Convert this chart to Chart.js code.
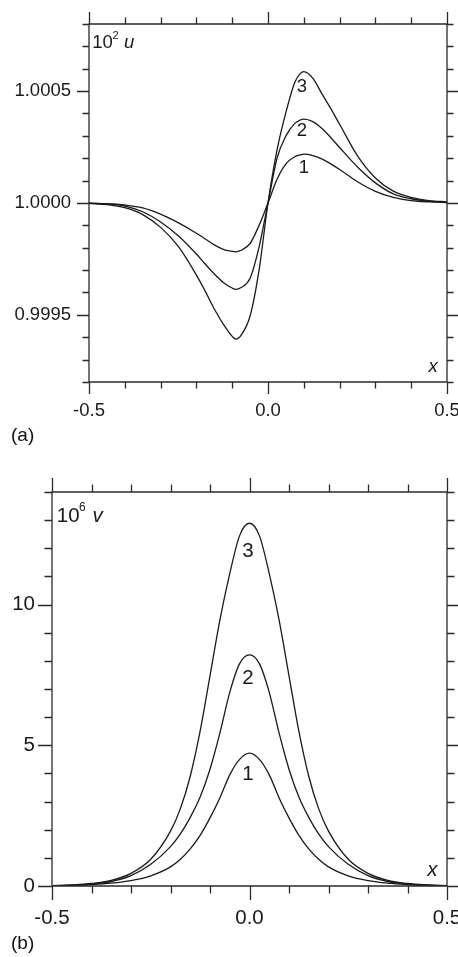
<!DOCTYPE html>
<html>
<head>
<meta charset="utf-8">
<script src="https://cdn.jsdelivr.net/npm/chart.js@4.4.1/dist/chart.umd.min.js"></script>
<style>
    html, body { margin: 0; padding: 0; background: #fff; overflow: hidden; }
    #wrap { position: relative; width: 458px; height: 957px; overflow: hidden; }
    canvas { position: absolute; left: 0; }
    #chartA { top: 0; }
    #chartB { top: 460px; }
    .tag { position: absolute; left: 11px; font: 19px "Liberation Sans", Arial, sans-serif;
           line-height: 19px; color: #111; }
</style>
</head>
<body>
<div id="wrap">
    <canvas id="chartA" width="470" height="450"></canvas>
    <canvas id="chartB" width="470" height="497"></canvas>
    <div class="tag" style="top:425px">(a)</div>
    <div class="tag" style="top:933px">(b)</div>
</div>
<script>
// panel (a): u - 1, in units of 1e-4
const X_U = [-0.5, -0.45, -0.4, -0.35, -0.3, -0.25, -0.2, -0.175, -0.15, -0.125, -0.1, -0.09, -0.075, -0.05, -0.025, 0,
    0.025, 0.05, 0.075, 0.09, 0.1, 0.125, 0.15, 0.175, 0.2, 0.25, 0.3, 0.35, 0.4, 0.45, 0.5];
const U_DEV_1 = [-0.01, -0.03, -0.09, -0.22, -0.5, -0.89, -1.35, -1.61, -1.87, -2.07, -2.16, -2.18, -2.11, -1.81, -1.0, 0,
    1.05, 1.75, 2.07, 2.15, 2.18, 2.12, 1.97, 1.75, 1.50, 0.95, 0.52, 0.25, 0.11, 0.05, 0.02];
const U_DEV_2 = [-0.01, -0.04, -0.14, -0.39, -0.85, -1.47, -2.28, -2.74, -3.17, -3.55, -3.80, -3.86, -3.78, -3.36, -1.97, 0,
    1.99, 3.0, 3.56, 3.71, 3.75, 3.64, 3.34, 2.93, 2.48, 1.61, 0.9, 0.41, 0.19, 0.08, 0.04];
const U_DEV_3 = [-0.02, -0.07, -0.21, -0.52, -1.09, -1.95, -3.22, -3.95, -4.74, -5.41, -5.96, -6.08, -5.90, -5.05, -3.0, 0,
    2.35, 4.05, 5.40, 5.78, 5.87, 5.58, 4.90, 4.23, 3.52, 2.11, 1.12, 0.53, 0.25, 0.11, 0.05];

// panel (b): 10^6 v
const X_V = [-0.5, -0.45, -0.4, -0.35, -0.3, -0.25, -0.2, -0.175, -0.15, -0.125, -0.1, -0.075, -0.05, -0.025, 0,
    0.025, 0.05, 0.075, 0.1, 0.125, 0.15, 0.175, 0.2, 0.25, 0.3, 0.35, 0.4, 0.45, 0.5];
const V_1 = [0.01, 0.022, 0.05, 0.1, 0.19, 0.36, 0.68, 0.95, 1.32, 1.80, 2.42, 3.13, 3.95, 4.5, 4.72,
    4.5, 3.95, 3.13, 2.42, 1.80, 1.32, 0.95, 0.68, 0.36, 0.19, 0.1, 0.05, 0.022, 0.01];
const V_2 = [0.01, 0.03, 0.07, 0.16, 0.37, 0.77, 1.40, 1.85, 2.44, 3.16, 4.15, 5.43, 6.88, 7.9, 8.21,
    7.9, 6.88, 5.43, 4.15, 3.16, 2.44, 1.85, 1.40, 0.77, 0.37, 0.16, 0.07, 0.03, 0.01];
const V_3 = [0.015, 0.04, 0.09, 0.2, 0.45, 0.95, 1.95, 2.75, 3.9, 5.5, 7.47, 9.45, 11.1, 12.45, 12.89,
    12.45, 11.1, 9.45, 7.47, 5.5, 3.9, 2.75, 1.95, 0.95, 0.45, 0.2, 0.09, 0.04, 0.015];

// ticks
const X_TICKS = [-0.5, -0.4, -0.3, -0.2, -0.1, 0, 0.1, 0.2, 0.3, 0.4, 0.5];
const X_LABELS = [-0.5, 0, 0.5];
const U_TICKS = [0.9992, 0.9993, 0.9994, 0.9995, 0.9996, 0.9997, 0.9998, 0.9999, 1.0,
    1.0001, 1.0002, 1.0003, 1.0004, 1.0005, 1.0006, 1.0007, 1.0008];
const U_LABELS = [0.9995, 1.0, 1.0005];
const V_TICKS = [0, 1, 2, 3, 4, 5, 6, 7, 8, 9, 10, 11, 12, 13, 14];
const V_LABELS = [0, 5, 10];

const FONT = '"Liberation Sans", Arial, sans-serif';
const INK = "#1a1a1a";

function near(list, v) {
    return list.some((m) => Math.abs(m - v) < 1e-9);
}

// frame, outward ticks on all four sides, and the texts inside the plot
const frameTicks = {
    id: "frameTicks",
    afterDraw(chart, args, o) {
        const { ctx, chartArea: a, scales } = chart;
        const sx = scales.x, sy = scales.y;
        ctx.save();
        ctx.strokeStyle = "#2a2a2a";
        ctx.lineWidth = 1.3;
        ctx.beginPath();
        ctx.rect(a.left, a.top, a.right - a.left, a.bottom - a.top);
        o.xTicks.forEach((v) => {
            const px = Math.round(sx.getPixelForValue(v)) + 0.5;
            const len = near(o.xMajor, v) ? o.major : o.minor;
            ctx.moveTo(px, a.bottom); ctx.lineTo(px, a.bottom + len);
            ctx.moveTo(px, a.top); ctx.lineTo(px, a.top - len);
        });
        o.yTicks.forEach((v) => {
            const py = Math.round(sy.getPixelForValue(v)) + 0.5;
            const len = near(o.yMajor, v) ? o.major : o.minor;
            ctx.moveTo(a.left, py); ctx.lineTo(a.left - len, py);
            ctx.moveTo(a.right, py); ctx.lineTo(a.right + len, py);
        });
        ctx.stroke();

        ctx.fillStyle = INK;
        const fs = o.fontSize;
        // axis name, top-left
        let x0 = a.left + o.name.dx;
        const base = a.top + o.name.dy;
        ctx.textAlign = "left";
        ctx.textBaseline = "alphabetic";
        ctx.font = `${fs}px ${FONT}`;
        ctx.fillText("10", x0, base);
        x0 += ctx.measureText("10").width;
        ctx.font = `${o.name.supSize}px ${FONT}`;
        ctx.fillText(o.name.sup, x0 - 0.5, base - o.name.supRise);
        ctx.font = `italic ${fs}px ${FONT}`;
        ctx.fillText(o.name.sym, x0 + o.name.symGap, base);
        // x, bottom-right
        ctx.fillText("x", a.right - o.xName.dx, a.bottom - o.xName.dy);
        // curve numbers
        ctx.font = `${fs}px ${FONT}`;
        ctx.textAlign = "center";
        ctx.textBaseline = "middle";
        o.curveTags.forEach((t) => {
            ctx.fillText(t.text, sx.getPixelForValue(t.x), sy.getPixelForValue(t.y));
        });
        ctx.restore();
    },
};

function series(xs, ys) {
    return {
        data: xs.map((x, i) => ({ x, y: ys[i] })),
        borderColor: INK,
        borderWidth: 1.3,
        pointRadius: 0,
        cubicInterpolationMode: "monotone",
        fill: false,
    };
}

function makeChart(id, cfg) {
    return new Chart(document.getElementById(id), {
        type: "line",
        data: { datasets: cfg.datasets },
        plugins: [frameTicks],
        options: {
            responsive: false,
            animation: false,
            devicePixelRatio: 1,
            layout: { padding: { top: cfg.top, right: 23, left: 0, bottom: 0 } },
            plugins: {
                legend: { display: false },
                tooltip: { enabled: false },
                frameTicks: cfg.frame,
            },
            scales: {
                x: {
                    type: "linear",
                    min: -0.5,
                    max: 0.5,
                    grid: { display: false, drawTicks: false },
                    border: { display: false },
                    afterBuildTicks: (s) => { s.ticks = X_LABELS.map((v) => ({ value: v })); },
                    afterFit: (s) => {
                        s.height = cfg.xHeight;
                        s.paddingLeft = 0;
                        s.paddingRight = 0;
                    },
                    ticks: {
                        autoSkip: false,
                        maxRotation: 0,
                        padding: cfg.xPad,
                        color: INK,
                        font: { family: FONT, size: cfg.frame.fontSize },
                        callback: (v) => Number(v).toFixed(1),
                    },
                },
                y: {
                    type: "linear",
                    min: cfg.yMin,
                    max: cfg.yMax,
                    grid: { display: false, drawTicks: false },
                    border: { display: false },
                    afterBuildTicks: (s) => { s.ticks = cfg.yLabels.map((v) => ({ value: v })); },
                    afterFit: (s) => {
                        s.width = cfg.yWidth;
                        s.paddingTop = 0;
                        s.paddingBottom = 0;
                    },
                    ticks: {
                        autoSkip: false,
                        padding: cfg.yPad,
                        color: INK,
                        font: { family: FONT, size: cfg.frame.fontSize },
                        callback: cfg.yFormat,
                    },
                },
            },
        },
    });
}

document.addEventListener("DOMContentLoaded", () => {
    const toU = (d) => d.map((v) => 1 + v / 1e4);

    makeChart("chartA", {
        datasets: [series(X_U, toU(U_DEV_1)), series(X_U, toU(U_DEV_2)), series(X_U, toU(U_DEV_3))],
        top: 24,
        xHeight: 68,
        xPad: 18,
        yWidth: 89,
        yPad: 18,
        yMin: 0.9992,
        yMax: 1.0008,
        yLabels: U_LABELS,
        yFormat: (v) => Number(v).toFixed(4),
        frame: {
            xTicks: X_TICKS, xMajor: X_LABELS, yTicks: U_TICKS, yMajor: U_LABELS,
            major: 12, minor: 6.5, fontSize: 18.5,
            name: { dx: 3.3, dy: 23.7, sup: "2", supSize: 11, supRise: 8.5, sym: "u", symGap: 11 },
            xName: { dx: 18.5, dy: 10.3 },
            curveTags: [
                { text: "3", x: 0.095, y: 1.000518 },
                { text: "2", x: 0.095, y: 1.000322 },
                { text: "1", x: 0.1, y: 1.000155 },
            ],
        },
    });

    makeChart("chartB", {
        datasets: [series(X_V, V_1), series(X_V, V_2), series(X_V, V_3)],
        top: 32,
        xHeight: 71,
        xPad: 20.5,
        yWidth: 52,
        yPad: 17,
        yMin: 0,
        yMax: 14,
        yLabels: V_LABELS,
        yFormat: (v) => String(v),
        frame: {
            xTicks: X_TICKS, xMajor: X_LABELS, yTicks: V_TICKS, yMajor: V_LABELS,
            major: 14, minor: 7.5, fontSize: 20.5,
            name: { dx: 4.8, dy: 30.3, sup: "6", supSize: 12, supRise: 11.5, sym: "v", symGap: 13 },
            xName: { dx: 19.8, dy: 10 },
            curveTags: [
                { text: "3", x: -0.004, y: 11.9 },
                { text: "2", x: -0.004, y: 7.37 },
                { text: "1", x: -0.004, y: 3.98 },
            ],
        },
    });
});
</script>
</body>
</html>
